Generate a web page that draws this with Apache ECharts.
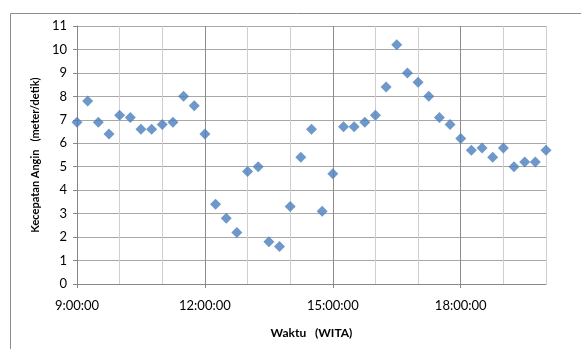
<!DOCTYPE html>
<html>
<head>
<meta charset="utf-8">
<script src="https://cdn.jsdelivr.net/npm/echarts@6/dist/echarts.min.js"></script>
<style>
html,body{margin:0;padding:0;background:#fff;}
#c{width:581px;height:349px;}
</style>
</head>
<body>
<div id="c"></div>
<script>
// Time of day in hours (15-minute steps)
const hours = [9,9.25,9.5,9.75,10,10.25,10.5,10.75,11,11.25,11.5,11.75,12,12.25,12.5,12.75,13,13.25,13.5,13.75,14,14.25,14.5,14.75,15,15.25,15.5,15.75,16,16.25,16.5,16.75,17,17.25,17.5,17.75,18,18.25,18.5,18.75,19,19.25,19.5,19.75,20];
// Wind speed (meter/detik)
const speeds = [6.9,7.8,6.9,6.4,7.2,7.1,6.6,6.6,6.8,6.9,8.0,7.6,6.4,3.4,2.8,2.2,4.8,5.0,1.8,1.6,3.3,5.4,6.6,3.1,4.7,6.7,6.7,6.9,7.2,8.4,10.2,9.0,8.6,8.0,7.1,6.8,6.2,5.7,5.8,5.4,5.8,5.0,5.2,5.2,5.7];
const xTickHours = [9,12,15,18];
const yTicks = [0,1,2,3,4,5,6,7,8,9,10,11];

const font = 'Lato';
const chart = echarts.init(document.getElementById('c'), null, {renderer:'canvas'});
chart.setOption({
  animation:false,
  backgroundColor:'#fff',
  graphic:[{
    type:'rect', left:8, top:11, z:-10,
    shape:{x:0.5,y:0.5,width:800,height:600},
    style:{fill:'none',stroke:'#8c8c8c',lineWidth:1}
  }],
  grid:{left:77, right:35, top:26, bottom:65, containLabel:false},
  xAxis:[{
    type:'value', min:9, max:20, interval:1, position:'bottom',
    name:'Waktu   (WITA)', nameLocation:'middle', nameGap:43,
    nameTextStyle:{fontFamily:font,fontWeight:'bold',fontSize:12,color:'#000'},
    axisLine:{show:true,onZero:false,lineStyle:{color:'#868686',width:1}},
    axisTick:{show:false},
    axisLabel:{customValues:xTickHours,margin:15,fontFamily:font,fontSize:13,color:'#000',
      formatter:function(v){return v+':00:00';}},
    splitLine:{show:true,lineStyle:{color:['#8c8c8c','#cfcfcf','#cfcfcf'],width:1}}
  },{
    type:'value', min:9, max:20, interval:1, position:'bottom', offset:0,
    axisLine:{show:false,onZero:false},
    axisTick:{show:true,length:4,customValues:xTickHours,lineStyle:{color:'#868686'}},
    axisLabel:{show:false},
    splitLine:{show:false}
  }],
  yAxis:{
    type:'value', min:0, max:11, interval:1,
    name:'Kecepatan Angin   (meter/detik)', nameLocation:'middle', nameGap:36,
    nameTextStyle:{fontFamily:font,fontWeight:'bold',fontSize:11,color:'#000'},
    axisLine:{show:true,lineStyle:{color:'#868686',width:1}},
    axisTick:{show:true,length:4,lineStyle:{color:'#868686'}},
    axisLabel:{margin:10,fontFamily:font,fontSize:13,color:'#000',
      formatter:function(v){return yTicks.indexOf(v)>=0 ? String(v) : '';}},
    splitLine:{show:true,lineStyle:{color:'#a8a8a8',width:1}}
  },
  series:[{
    type:'scatter',
    xAxisIndex:0,
    symbol:'diamond',
    symbolSize:[11,11],
    itemStyle:{color:'#4a7ebb'},
    data:hours.map(function(h,i){return [h,speeds[i]];})
  }]
});
</script>
</body>
</html>
